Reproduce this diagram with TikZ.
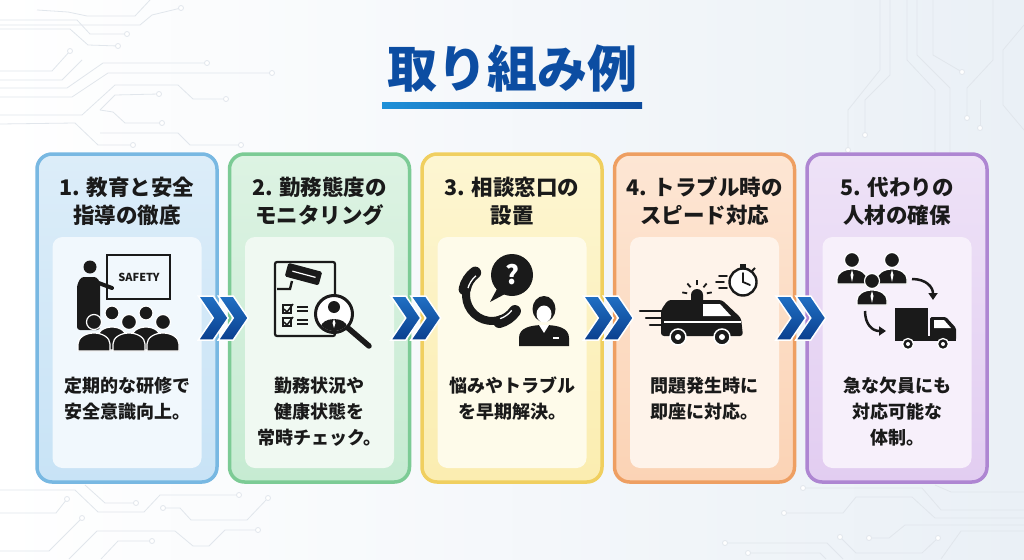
\documentclass[tikz,border=0pt]{standalone}
\usepackage{fontspec}
\setmainfont{Noto Sans CJK JP}
\usetikzlibrary{calc,arrows.meta}
\definecolor{ttlblue}{HTML}{0C4DA2}
\definecolor{ulA}{HTML}{1E90D8}
\definecolor{ulB}{HTML}{0D4C9E}
\definecolor{chvA}{HTML}{2070C4}
\definecolor{chvB}{HTML}{0B3F8E}
\definecolor{bgR}{HTML}{EAF0F6}
\definecolor{trc}{HTML}{E1E6EC}
\definecolor{ink}{HTML}{1A1A1A}
\definecolor{bdA}{HTML}{78B8E2}\definecolor{bgAt}{HTML}{DCEDF9}\definecolor{bgAb}{HTML}{C8E3F6}\definecolor{inA}{HTML}{F1F8FD}
\definecolor{bdB}{HTML}{7CCB95}\definecolor{bgBt}{HTML}{DDF3E3}\definecolor{bgBb}{HTML}{C6EBD2}\definecolor{inB}{HTML}{F0F9F2}
\definecolor{bdC}{HTML}{F0CF5F}\definecolor{bgCt}{HTML}{FDF6D2}\definecolor{bgCb}{HTML}{FBEDB0}\definecolor{inC}{HTML}{FEFBEA}
\definecolor{bdD}{HTML}{EE9F62}\definecolor{bgDt}{HTML}{FDE6D4}\definecolor{bgDb}{HTML}{FBD3B5}\definecolor{inD}{HTML}{FEF3EA}
\definecolor{bdE}{HTML}{AE86D2}\definecolor{bgEt}{HTML}{EEE2F7}\definecolor{bgEb}{HTML}{E2CDF1}\definecolor{inE}{HTML}{F7F0FB}
\tikzset{
  card/.style={rounded corners=15pt, line width=3.5pt, minimum width=180pt, minimum height=328pt, inner sep=0pt},
  panel/.style={rounded corners=10pt, minimum width=149pt, minimum height=231pt, inner sep=0pt},
  cardttl/.style={text=ink, font=\bfseries\fontsize{21.5}{28}\selectfont, align=center, inner sep=0pt},
  cardtxt/.style={text=ink, font=\bfseries\fontsize{18}{26}\selectfont, align=center, inner sep=0pt, anchor=north},
  chev/.style={draw=white, line width=1.5pt, top color=chvA, bottom color=chvB},
  trace/.style={draw=trc, line width=0.8pt},
  man/.style={fill=ink, draw=white, line width=1.2pt},
}
\begin{document}
\begin{tikzpicture}[x=1pt,y=1pt]
  \useasboundingbox (0,0) rectangle (1024,-559);
  \shade[left color=white, right color=bgR] (0,0) rectangle (1024,-559);

  \draw[trace] (0,-20) -- (77,-20) -- (90,-34) -- (127,-34);
  \draw[trace] (0,-29) -- (70,-29) -- (88,-45) -- (118,-46);
  \draw[trace] (0,-25) -- (140,-25) -- (152,-15) -- (181,-8);
  \draw[trace] (37,-10) -- (68,-12) -- (87,-16) -- (135,-16) -- (150,0);
  \draw[trace] (0,-71) -- (52,-71) -- (70,-51);
  \draw[trace] (0,-80) -- (62,-80) -- (82,-60);
  \draw[trace] (0,-88) -- (67,-88) -- (103,-63) -- (207,-63);
  \draw[trace] (0,-97) -- (72,-97) -- (108,-73) -- (272,-73);
  \draw[trace] (0,-115) -- (82,-115) -- (115,-85) -- (178,-85) -- (193,-99) -- (226,-99);
  \draw[trace] (100,-110) -- (115,-95) -- (159,-94);
  \draw[trace] (100,-110) -- (113,-112) -- (125,-123) -- (162,-123);
  \draw[trace] (0,-124) -- (75,-123) -- (98,-145) -- (133,-145);
  \draw[trace] (100,-133) -- (178,-133) -- (190,-145) -- (241,-145);
  \draw[trace] (880,0) -- (880,-70) -- (848,-110) -- (848,-150);
  \draw[trace] (890,0) -- (890,-75) -- (865,-100) -- (865,-135);
  \draw[trace] (907,0) -- (907,-60) -- (935,-90) -- (935,-160);
  \draw[trace] (917,0) -- (917,-55) -- (950,-88) -- (950,-160);
  \draw[trace] (933,0) -- (933,-55) -- (962,-72);
  \draw[trace] (993,0) -- (993,-60) -- (967,-88) -- (967,-118);
  \draw[trace] (980,-100) -- (980,-128);
  \draw[trace] (1024,-25) -- (1003,-50) -- (1003,-105) -- (1024,-130);
  \draw[trace] (0,-490) -- (75,-490) -- (98,-512) -- (144,-512) -- (160,-495) -- (239,-495);
  \draw[trace] (85,-485) -- (105,-503) -- (136,-503);
  \draw[trace] (0,-513) -- (56,-513) -- (67,-499);
  \draw[trace] (163,-508) -- (180,-508) -- (191,-520) -- (247,-520) -- (268,-498);
  \draw[trace] (0,-551) -- (49,-551) -- (82,-518);
  \draw[trace] (69,-559) -- (97,-531) -- (175,-531) -- (193,-546) -- (209,-546) -- (225,-530) -- (258,-530);
  \draw[trace] (101,-559) -- (118,-541) -- (152,-541);
  \draw[trace] (803,-488) -- (922,-488) -- (941,-510) -- (1024,-510);
  \draw[trace] (784,-513) -- (843,-513) -- (856,-497) -- (912,-497) -- (935,-518) -- (1024,-518);
  \draw[trace] (935,-485) -- (951,-492) -- (1024,-492);
  \draw[trace] (725,-543) -- (827,-543) -- (843,-559);
  \draw[trace] (748,-553) -- (820,-553) -- (826,-559);
  \draw[trace] (840,-537) -- (856,-553) -- (922,-553) -- (938,-538);
  \draw[trace] (869,-538) -- (889,-538) -- (905,-525) -- (1024,-525);
  \draw[trace] (941,-559) -- (961,-531) -- (1024,-531);
  \foreach \p in {(127,-34),(118,-46),(181,-8),(70,-51),(207,-63),(272,-73),(226,-99),(159,-94),(162,-123),(133,-145),(241,-145),
    (848,-150),(865,-135),(962,-72),(967,-118),(980,-128),(239,-495),(136,-503),(67,-499),(163,-508),(268,-498),(82,-518),(258,-530),(152,-541),
    (803,-488),(784,-513),(725,-543),(748,-553),(840,-537),(938,-538),(869,-538)}
    \draw[trace, fill=white] \p circle[radius=2.5];

  \node[font=\bfseries\fontsize{50}{50}\selectfont, text=ttlblue, inner sep=0pt] (ttl) at (512,-69) {取り組み例};
  \shade[left color=ulA, right color=ulB] (382,-103) rectangle (642,-109);

  \foreach \i/\bd/\bgt/\bgb/\inn/\hd/\tx in {
    1/bdA/bgAt/bgAb/inA/{1. 教育と安全\\指導の徹底}/{定期的な研修で\\安全意識向上。},
    2/bdB/bgBt/bgBb/inB/{2. 勤務態度の\\モニタリング}/{勤務状況や\\健康状態を\\常時チェック。},
    3/bdC/bgCt/bgCb/inC/{3. 相談窓口の\\設置}/{悩みやトラブル\\を早期解決。},
    4/bdD/bgDt/bgDb/inD/{4. トラブル時の\\スピード対応}/{問題発生時に\\即座に対応。},
    5/bdE/bgEt/bgEb/inE/{5. 代わりの\\人材の確保}/{急な欠員にも\\対応可能な\\体制。}} {
    \pgfmathsetmacro\cx{127+192.5*(\i-1)}
    \node[card, draw=\bd, top color=\bgt, bottom color=\bgb] (c\i) at (\cx,-318) {};
    \node[panel, fill=\inn] (p\i) at (\cx,-352.5) {};
    \node[cardttl] (h\i) at (\cx,-201) {\hd};
    \node[cardtxt] (t\i) at (\cx,-377) {\tx};
  }

  \foreach \i [evaluate=\i as \j using int(\i+1)] in {1,...,4} {
    \coordinate (m\i) at ($(c\i.east)!0.5!(c\j.west)$);
    \foreach \d in {-10,10}
      \draw[chev] ($(m\i)+(\d,0)$) ++(-15,22) -- ++(15,0) -- ++(15,-22) -- ++(-15,-22) -- ++(-15,0) -- ++(15,22) -- cycle;
  }

  \begin{scope}[ink]
    \draw[line width=2.4pt] (107,-255) rectangle (170,-299);
    \node[font=\bfseries\fontsize{11}{11}\selectfont, inner sep=0pt] (safety) at (139,-277) {SAFETY};
    \fill (90,-267) circle[radius=6.5];
    \fill[rounded corners=3pt] (77,-330) -- (77,-285) -- (81,-277) -- (97,-277) -- (100,-283) -- (100,-330) -- cycle;
    \draw[line width=4pt, line cap=round] (96,-282) -- (112,-288);
    \foreach \x in {112,146} {
      \fill[man] (\x-15,-350) -- (\x-15,-338) arc[start angle=180, end angle=0, x radius=15, y radius=11] -- (\x+15,-350) -- cycle;
      \fill[man] (\x,-313) circle[radius=7];
    }
    \foreach \x in {94,129,163} {
      \fill[man] (\x-16,-351) -- (\x-16,-344) arc[start angle=180, end angle=0, x radius=16, y radius=11] -- (\x+16,-351) -- cycle;
      \fill[man] (\x,-322) circle[radius=7.5];
    }

    \draw[line width=2.2pt, rounded corners=2pt] (275,-262) rectangle (335,-336);
    \fill[rotate around={-15:(303,-274)}, rounded corners=1.5pt] (286,-267) rectangle (321,-281);
    \draw[white, line width=1.2pt, rotate around={-15:(303,-274)}] (292,-274) -- (316,-274);
    \draw[line width=2.4pt] (277,-289) -- (290,-289) -- (292,-281);
    \foreach \y in {-309,-322} {
      \draw[line width=1.5pt] (283,\y+4) rectangle (291,\y-4);
      \draw[line width=1.5pt] (284,\y) -- (287,\y-3) -- (293,\y+5);
      \draw[line width=1.8pt] (297,\y+2) -- (308,\y+2) (297,\y-2) -- (308,\y-2);
    }
    \draw[line width=3pt, fill=white] (334,-314) circle[radius=18.5];
    \fill (334,-307) circle[radius=6];
    \begin{scope}
      \clip (334,-314) circle[radius=17];
      \fill (321,-334) -- (321,-327) arc[start angle=180, end angle=0, x radius=13, y radius=8] -- (347,-334) -- cycle;
    \end{scope}
    \fill[white] (334,-319) -- (332.5,-323) -- (334,-328) -- (335.5,-323) -- cycle;
    \draw[line width=5.5pt, line cap=round] (348,-328) -- (369,-346);

    \draw[line width=8pt] (492,-295) ++(160:26) arc[start angle=160, end angle=295, radius=26];
    \draw[line width=12pt, line cap=round] (492,-295) ++(127:28) arc[start angle=127, end angle=168, radius=28];
    \draw[line width=12pt, line cap=round] (492,-295) ++(285:28) arc[start angle=285, end angle=325, radius=28];
    \draw[white, line width=1.3pt] (492,-295) ++(130:25) arc[start angle=130, end angle=164, radius=25];
    \draw[white, line width=1.3pt] (492,-295) ++(289:25) arc[start angle=289, end angle=322, radius=25];
    \fill (512,-275) circle[radius=21];
    \fill (497,-289) -- (490,-302) -- (505,-294) -- cycle;
    \node[text=white, font=\bfseries\fontsize{26}{26}\selectfont, inner sep=0pt] (qm) at (512,-275) {?};
    \fill (544,-309) ellipse[x radius=11.5, y radius=13];
    \fill[white] (544,-314) ellipse[x radius=7.5, y radius=8.5];
    \fill (519,-346) -- (519,-338) .. controls (519,-328) and (530,-325) .. (544,-325) .. controls (558,-325) and (569,-328) .. (569,-338) -- (569,-346) -- cycle;
    \fill[white] (539,-325) -- (544,-333) -- (549,-325) -- cycle;
    \draw[white, line width=1.2pt] (553,-338) -- (559,-338);

    \fill[rounded corners=3pt] (661,-336) -- (661,-310) -- (668,-300) -- (722,-300) -- (741,-318) -- (743,-336) -- cycle;
    \fill[white] (703,-304) -- (720,-304) -- (731,-316) -- (703,-316) -- cycle;
    \draw[white, line width=1.2pt] (664,-322) -- (741,-322);
    \foreach \x in {678,722} {
      \fill[draw=white, line width=1.5pt] (\x,-337) circle[radius=8];
      \fill[white] (\x,-337) circle[radius=3];
    }
    \foreach \y/\a in {-311/640,-318/646,-325/650}
      \draw[line width=2.2pt, line cap=round] (\a,\y) -- (663,\y);
    \fill (691,-300) -- (691,-295) arc[start angle=180, end angle=0, radius=6] -- (703,-300) -- cycle;
    \foreach \a in {10,50,90,130,170}
      \draw[line width=1.8pt] ($(697,-295)+(\a:10)$) -- ($(697,-295)+(\a:15)$);
    \draw[line width=2.4pt, fill=white] (743,-282) circle[radius=13.5];
    \fill (740,-264) rectangle (746,-267.5);
    \draw[line width=2pt] (752,-271) -- (755,-268);
    \draw[line width=1.8pt, line cap=round] (743,-273) -- (743,-282) -- (750,-285);
    \foreach \y/\a in {-276/719,-282/716,-288/719}
      \draw[line width=1.8pt, line cap=round] (\a,\y) -- (\a+8,\y);

    \foreach \x/\y in {852/-260, 892/-260, 872/-281} {
      \fill[man] (\x-15,\y-24) -- (\x-15,\y-19) arc[start angle=180, end angle=0, x radius=15, y radius=10] -- (\x+15,\y-24) -- cycle;
      \fill[white] (\x,\y-10) -- (\x-1.5,\y-15) -- (\x,\y-22) -- (\x+1.5,\y-15) -- cycle;
      \fill[man] (\x,\y) circle[radius=7.5];
    }
    \draw[line width=2.5pt, -{Triangle[length=7pt,width=9pt]}] (912,-279) .. controls (926,-279) and (933,-287) .. (933,-300);
    \draw[line width=2.5pt, -{Triangle[length=7pt,width=9pt]}] (865,-311) .. controls (865,-324) and (872,-331) .. (886,-331);
    \fill (895,-308) rectangle (928,-338);
    \fill[rounded corners=1.5pt] (930,-317) -- (946,-317) -- (956,-328) -- (956,-340) -- (930,-340) -- cycle;
    \fill[white] (934,-320) -- (944,-320) -- (951,-328) -- (934,-328) -- cycle;
    \fill (895,-336) rectangle (956,-341);
    \foreach \x in {908,943} {
      \fill[draw=white, line width=1.3pt] (\x,-344) circle[radius=5.5];
      \fill[white] (\x,-344) circle[radius=2];
    }
  \end{scope}
\end{tikzpicture}
\end{document}
